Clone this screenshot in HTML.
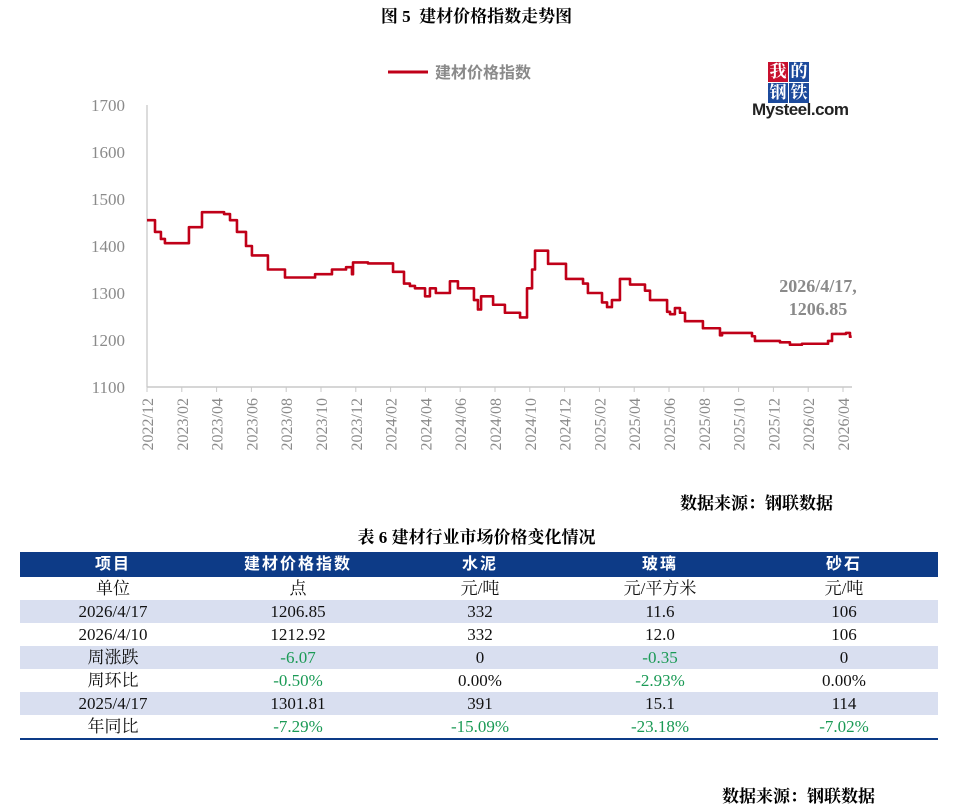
<!DOCTYPE html>
<html><head><meta charset="utf-8">
<style>
body{margin:0;background:#fff;width:953px;height:812px;overflow:hidden;font-family:"Liberation Serif","Noto Serif CJK SC",serif;}
.t{position:absolute;white-space:nowrap}
table{position:absolute;left:20px;top:552px;width:918px;border-collapse:collapse;font-size:17px;color:#111}
td{height:23px;padding:0;text-align:center;line-height:23px}
tr.h td{background:#0d3b87;color:#fff;font-weight:bold;height:25px;letter-spacing:2px;font-family:"Liberation Sans","Noto Sans CJK SC",sans-serif;font-size:16px}
tr.s td{background:#d9dff0}
.g{color:#1a9a55}
</style></head><body>
<div class="t" style="left:0;width:953px;text-align:center;top:2px;font-size:17px;font-weight:bold">图 5&nbsp; 建材价格指数走势图</div>
<svg id="chart" width="953" height="480" style="position:absolute;left:0;top:0"></svg>
<div class="t" style="left:752px;top:62px;width:110px;height:60px">
  <div style="position:absolute;left:16px;top:0;width:20px;height:20px;background:#c8102e;color:#fff;font-size:17px;line-height:20px;text-align:center;font-weight:bold">我</div>
  <div style="position:absolute;left:37px;top:0;width:20px;height:20px;background:#1c4a9c;color:#fff;font-size:17px;line-height:20px;text-align:center;font-weight:bold">的</div>
  <div style="position:absolute;left:16px;top:21px;width:20px;height:20px;background:#1c4a9c;color:#fff;font-size:17px;line-height:20px;text-align:center;font-weight:bold">钢</div>
  <div style="position:absolute;left:37px;top:21px;width:20px;height:20px;background:#1c4a9c;color:#fff;font-size:17px;line-height:20px;text-align:center;font-weight:bold">铁</div>
  <div style="position:absolute;left:0;top:38px;font-family:'Liberation Sans',sans-serif;font-size:17px;font-weight:bold;color:#222;letter-spacing:-0.5px">Mysteel.com</div>
</div>
<div class="t" style="left:680px;top:489px;font-size:17px;font-weight:bold">数据来源：钢联数据</div>
<div class="t" style="left:0;width:953px;text-align:center;top:523px;font-size:17px;font-weight:bold">表 6 建材行业市场价格变化情况</div>
<table>
<tr class="h"><td style="width:186px">项目</td><td style="width:184px">建材价格指数</td><td style="width:180px">水泥</td><td style="width:180px">玻璃</td><td>砂石</td></tr>
<tr><td>单位</td><td>点</td><td>元/吨</td><td>元/平方米</td><td>元/吨</td></tr>
<tr class="s"><td>2026/4/17</td><td>1206.85</td><td>332</td><td>11.6</td><td>106</td></tr>
<tr><td>2026/4/10</td><td>1212.92</td><td>332</td><td>12.0</td><td>106</td></tr>
<tr class="s"><td>周涨跌</td><td class="g">-6.07</td><td>0</td><td class="g">-0.35</td><td>0</td></tr>
<tr><td>周环比</td><td class="g">-0.50%</td><td>0.00%</td><td class="g">-2.93%</td><td>0.00%</td></tr>
<tr class="s"><td>2025/4/17</td><td>1301.81</td><td>391</td><td>15.1</td><td>114</td></tr>
<tr style="border-bottom:2px solid #0d3b87"><td>年同比</td><td class="g">-7.29%</td><td class="g">-15.09%</td><td class="g">-23.18%</td><td class="g">-7.02%</td></tr>
</table>
<div class="t" style="left:722px;top:782px;font-size:17px;font-weight:bold">数据来源：钢联数据</div>
<script>
// months since 2022/12 and index values (step series)
const months=[0,0.46,0.8,1.03,2.41,3.16,4.43,4.77,5.17,5.69,6.03,6.95,7.93,9.66,10.63,11.44,11.78,11.84,12.7,14.14,14.77,15.11,15.4,15.98,16.26,16.6,17.41,17.87,18.79,19.02,19.2,19.89,20.57,21.44,21.84,22.13,22.3,23.05,24.08,25.06,25.34,26.15,26.44,26.72,27.18,27.76,28.62,28.91,29.89,30.06,30.34,30.63,30.92,31.95,32.93,33.05,34.77,34.94,36.38,36.95,37.64,39.14,39.37,40.17,40.4];
const values=[1455,1430,1415,1406,1440,1472,1468,1455,1430,1400,1380,1350,1333,1340,1350,1355,1340,1365,1363,1345,1320,1315,1310,1293,1310,1300,1325,1310,1285,1265,1293,1275,1258,1248,1310,1350,1390,1362,1330,1320,1300,1280,1270,1285,1330,1318,1305,1285,1260,1255,1268,1258,1240,1225,1210,1215,1208,1198,1195,1190,1192,1198,1213,1215,1207];
const yTicks=[1100,1200,1300,1400,1500,1600,1700];
const xTickLabels=["2022/12","2023/02","2023/04","2023/06","2023/08","2023/10","2023/12","2024/02","2024/04","2024/06","2024/08","2024/10","2024/12","2025/02","2025/04","2025/06","2025/08","2025/10","2025/12","2026/02","2026/04"];
const NS="http://www.w3.org/2000/svg";
const svg=document.getElementById('chart');
const X=m=>147+m*17.4;
const Y=v=>387-(v-1100)*0.47;
function mk(tag,attrs){const e=document.createElementNS(NS,tag);for(const k in attrs)e.setAttribute(k,attrs[k]);svg.appendChild(e);return e;}
const ya=mk('line',{x1:147,y1:105,x2:147,y2:387,stroke:'#d0d0d0','stroke-width':1.5});


const xa=mk('line',{x1:147,y1:387,x2:852,y2:387,stroke:'#c8c8c8','stroke-width':1.5});


yTicks.forEach(v=>{
  const t=mk('text',{x:125,y:Y(v)+6,'text-anchor':'end','font-size':17,fill:'#8a8a8a','font-family':'Liberation Serif, serif'});
  t.textContent=v;
  
  
});
xTickLabels.forEach((l,i)=>{
  const x=X(i*2);
  const tk=mk('line',{x1:x,y1:387,x2:x,y2:392,stroke:'#c8c8c8'});
  
  
  const t=mk('text',{x:0,y:0,'text-anchor':'end','font-size':16,fill:'#8a8a8a','font-family':'Liberation Serif, serif',transform:`translate(${x+6},398) rotate(-90)`});
  t.textContent=l;
  
  
});
let d='';
months.forEach((m,i)=>{
  if(i===0)d+=`M${X(m)},${Y(values[i])}`;
  else d+=`L${X(m)},${Y(values[i-1])}L${X(m)},${Y(values[i])}`;
});
d+=`L${X(40.5)},${Y(values[values.length-1])}`;
const p=mk('path',{d:d,fill:'none',stroke:'#c00018','stroke-width':2.6,'stroke-linejoin':'round'});


const ll=mk('line',{x1:388,y1:72,x2:428,y2:72,stroke:'#c00018','stroke-width':3});


const lt=mk('text',{x:435,y:78,'font-size':16,fill:'#8a8a8a','font-weight':'bold','font-family':'Noto Sans CJK SC, sans-serif'});
lt.textContent='建材价格指数';


const a1=mk('text',{x:818,y:292,'text-anchor':'middle','font-size':18,fill:'#8a8a8a','font-weight':'bold','font-family':'Liberation Serif, serif'});
a1.textContent='2026/4/17,';


const a2=mk('text',{x:818,y:315,'text-anchor':'middle','font-size':18,fill:'#8a8a8a','font-weight':'bold','font-family':'Liberation Serif, serif'});
a2.textContent='1206.85';


</script>
</body></html>
